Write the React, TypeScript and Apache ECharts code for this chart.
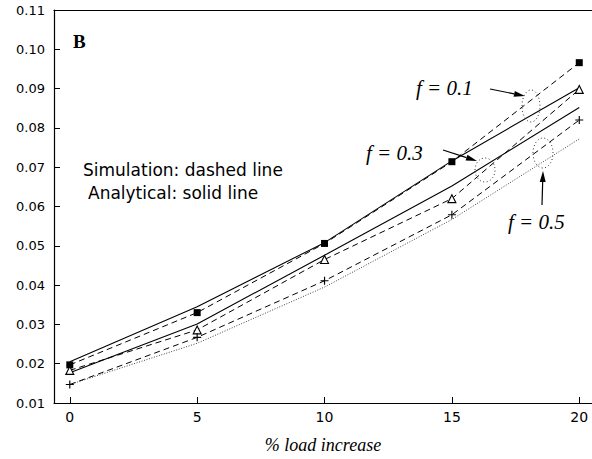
import React, { useEffect, useRef } from "react";
import * as echarts from "echarts";

const loadIncrease = [0, 5, 10, 15, 20];
const xTickValues = [0, 5, 10, 15, 20];

// f = 0.1
const simF01 = [0.0197, 0.033, 0.0506, 0.0714, 0.0966];
const anaF01 = [0.0205, 0.0345, 0.0508, 0.0716, 0.0902];
// f = 0.3
const simF03 = [0.0183, 0.0286, 0.0465, 0.062, 0.0898];
const anaF03 = [0.0177, 0.0301, 0.0476, 0.0652, 0.0852];
// f = 0.5
const simF05 = [0.0147, 0.0267, 0.0411, 0.0579, 0.082];
const anaF05 = [0.0147, 0.0252, 0.0395, 0.0567, 0.0772];

const pair = (ys: number[]) => loadIncrease.map((x, i) => [x, ys[i]]);

const PLUS = "path://M3,0 L4,0 L4,3 L7,3 L7,4 L4,4 L4,7 L3,7 L3,4 L0,4 L0,3 L3,3 Z";

export default function App() {
  const ref = useRef<HTMLDivElement>(null);
  useEffect(() => {
    if (!ref.current) return;
    const chart = echarts.init(ref.current, null, { renderer: "svg" });
    const sans = "DejaVu Sans";
    const serif = "Liberation Serif";
    const dashed = { color: "#000", width: 1, type: [6, 4] as any };
    const solid = { color: "#000", width: 1.1, type: "solid" as any };
    const dotted = { color: "#444", width: 1, type: [1, 1.6] as any };
    const arrow = (pts: number[][]) => {
      const [a, b] = pts;
      const dx = b[0] - a[0];
      const dy = b[1] - a[1];
      const len = Math.hypot(dx, dy);
      const ux = dx / len, uy = dy / len;
      const hl = 11, hw = 3;
      const bx = b[0] - ux * hl, by = b[1] - uy * hl;
      return [
        { type: "line", shape: { x1: a[0], y1: a[1], x2: bx, y2: by }, style: { stroke: "#000", lineWidth: 1.2 }, z: 100 },
        {
          type: "polygon",
          shape: { points: [b, [bx - uy * hw, by + ux * hw], [bx + uy * hw, by - ux * hw]] },
          style: { fill: "#000" },
          z: 100,
        },
      ];
    };
    const ell = (cx: number, cy: number, rx: number, ry: number) => ({
      type: "ellipse",
      shape: { cx, cy, rx, ry },
      style: { fill: "none", stroke: "#333", lineWidth: 1, lineDash: [1, 2.5] },
      z: 100,
    });
    chart.setOption({
      animation: false,
      backgroundColor: "#fff",
      grid: { left: 54, right: 0, top: 10, bottom: 53, containLabel: false },
      xAxis: [
        {
          type: "value",
          min: -0.62,
          max: 20.5,
          name: "% load increase",
          nameLocation: "middle",
          nameGap: 33,
          nameTextStyle: { fontFamily: serif, fontStyle: "italic", fontSize: 18, color: "#000" },
          axisLine: { show: true, onZero: false, lineStyle: { color: "#000", width: 1.2 } },
          axisTick: { show: true, inside: true, length: 6, customValues: xTickValues, lineStyle: { color: "#000" } },
          axisLabel: { customValues: xTickValues, margin: 7, fontFamily: sans, fontSize: 14, color: "#000" },
          splitLine: { show: false },
        },
        {
          type: "value",
          position: "top",
          min: -0.62,
          max: 20.5,
          axisLine: { show: true, onZero: false, lineStyle: { color: "#000", width: 1.2 } },
          axisTick: { show: false },
          axisLabel: { show: false },
          splitLine: { show: false },
        },
      ],
      yAxis: {
        type: "value",
        min: 0.01,
        max: 0.11,
        interval: 0.01,
        axisLine: { show: true, onZero: false, lineStyle: { color: "#000", width: 1.2 } },
        axisTick: { show: true, inside: true, length: 6, lineStyle: { color: "#000" } },
        axisLabel: {
          margin: 9,
          fontFamily: sans,
          fontSize: 13,
          color: "#000",
          formatter: (v: number) => v.toFixed(2),
        },
        splitLine: { show: false },
      },
      series: [
        { type: "line", name: "Analytical f=0.1", data: pair(anaF01), showSymbol: false, lineStyle: solid, z: 2 },
        { type: "line", name: "Analytical f=0.3", data: pair(anaF03), showSymbol: false, lineStyle: solid, z: 2 },
        { type: "line", name: "Analytical f=0.5", data: pair(anaF05), showSymbol: false, lineStyle: dotted, z: 2 },
        {
          type: "line",
          name: "Simulation f=0.1",
          data: pair(simF01),
          symbol: "rect",
          symbolSize: 7,
          itemStyle: { color: "#000" },
          lineStyle: dashed,
          z: 3,
        },
        {
          type: "line",
          name: "Simulation f=0.3",
          data: pair(simF03),
          symbol: "triangle",
          symbolSize: 8,
          itemStyle: { color: "#fff", borderColor: "#000", borderWidth: 1.1 },
          lineStyle: dashed,
          z: 3,
        },
        {
          type: "line",
          name: "Simulation f=0.5",
          data: pair(simF05),
          symbol: PLUS,
          symbolSize: 8,
          itemStyle: { color: "#000" },
          lineStyle: dashed,
          z: 3,
        },
      ],
      graphic: [
        { type: "text", left: 73, top: 32, style: { text: "B", font: `bold 19px ${serif}`, fill: "#000" } },
        { type: "text", left: 83, top: 161, style: { text: "Simulation: dashed line", font: `17px ${sans}`, fill: "#000" } },
        { type: "text", left: 88, top: 184, style: { text: "Analytical: solid line", font: `17px ${sans}`, fill: "#000" } },
        { type: "text", left: 416, top: 77, style: { text: "f = 0.1", font: `italic 21px ${serif}`, fill: "#000" } },
        { type: "text", left: 366, top: 142, style: { text: "f = 0.3", font: `italic 21px ${serif}`, fill: "#000" } },
        { type: "text", left: 508, top: 211, style: { text: "f = 0.5", font: `italic 21px ${serif}`, fill: "#000" } },
        ...arrow([[490, 89], [525, 96]]),
        ...arrow([[443, 150], [477, 161]]),
        ...arrow([[542, 205], [543, 171]]),
        ell(531, 106, 9, 16),
        ell(485, 170, 10, 12),
        ell(543, 153, 10, 15),
      ],
    });
    return () => chart.dispose();
  }, []);
  return (
    <div
      ref={ref}
      style={{ position: "absolute", left: 0, top: 0, width: 592, height: 459, background: "#fff" }}
    />
  );
}
